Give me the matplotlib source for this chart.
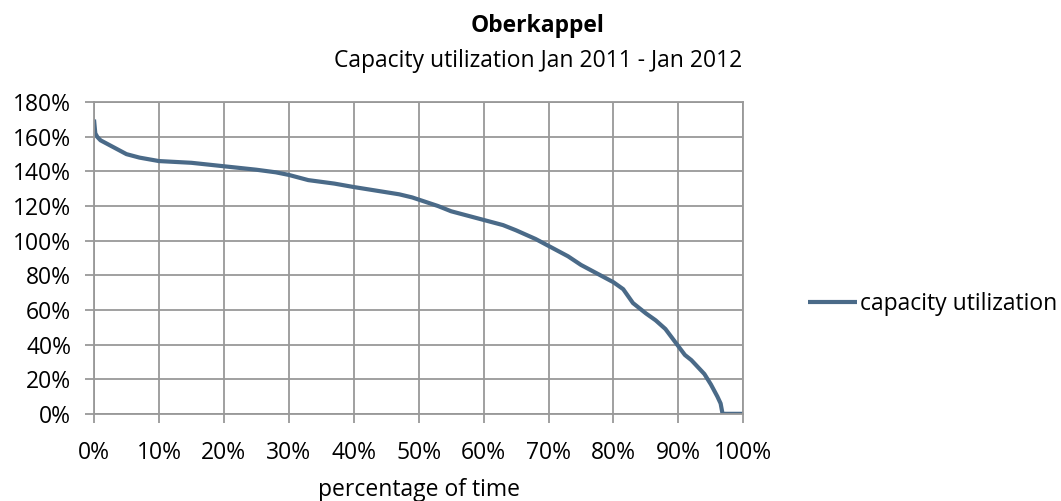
import matplotlib
matplotlib.use('Agg')
import matplotlib.pyplot as plt
from matplotlib.ticker import FuncFormatter

plt.rcParams['font.family'] = ['Open Sans', 'DejaVu Sans']

# percentage of time (%) and capacity utilization (%)
time_pct = [0, 0.2, 0.5, 1, 2, 3, 4, 5, 7, 10, 15, 20, 25, 28, 30, 33, 37, 40,
            45, 47, 49, 51, 53, 55, 58, 60, 63, 65, 68, 70, 73, 75, 78, 80, 81.5,
            83, 85, 86.5, 88, 89, 90, 91, 92, 93, 94, 95, 96, 96.5, 96.8, 100]
util_pct = [170, 162, 160, 158, 156, 154, 152, 150, 148, 146, 145, 143, 141, 139.5, 138,
            135, 133, 131, 128, 126.8, 125, 122.5, 120, 117, 114, 112, 109, 106, 101, 97,
            91, 86, 80, 76, 72, 64, 58, 54, 49, 44, 39, 34, 31, 27, 23, 17,
            10, 6, 0, 0]

FS = 16.5

fig = plt.figure(figsize=(10.61, 5.01), dpi=100)
ax = fig.add_axes([0.0886, 0.174, 0.612, 0.622])

ax.plot(time_pct, util_pct, color='#4a6a88', lw=3, label='capacity utilization',
        solid_capstyle='butt')

ax.set_xlim(0, 100)
ax.set_ylim(0, 180)
ax.set_xticks(range(0, 101, 10))
ax.set_yticks(range(0, 181, 20))
ax.xaxis.set_major_formatter(FuncFormatter(lambda v, p: '%d%%' % v))
ax.yaxis.set_major_formatter(FuncFormatter(lambda v, p: '%d%%' % v))
ax.grid(True, color='#999999', lw=1.3)
ax.set_axisbelow(True)
for s in ax.spines.values():
    s.set_color('#999999')
    s.set_linewidth(1.3)
ax.tick_params(colors='#999999', labelcolor='black', labelsize=FS, length=6.5, width=1.3)
ax.tick_params(axis='x', pad=13)
ax.tick_params(axis='y', pad=10)

ax.set_xlabel('percentage of time', fontsize=FS)
ax.xaxis.label.set_va('center')
ax.xaxis.set_label_coords(0.5, -0.2436)

fig.text(0.507, 0.948, 'Oberkappel', ha='center', va='center', fontsize=FS, fontweight='bold')
fig.text(0.507, 0.878, 'Capacity utilization Jan 2011 - Jan 2012', ha='center', va='center', fontsize=FS)

fig.legend(loc='center left', bbox_to_anchor=(0.762, 0.393), frameon=False, fontsize=FS,
           handlelength=2.1, handletextpad=0.15, borderpad=0, borderaxespad=0)

fig.savefig('out.png', dpi=100)
